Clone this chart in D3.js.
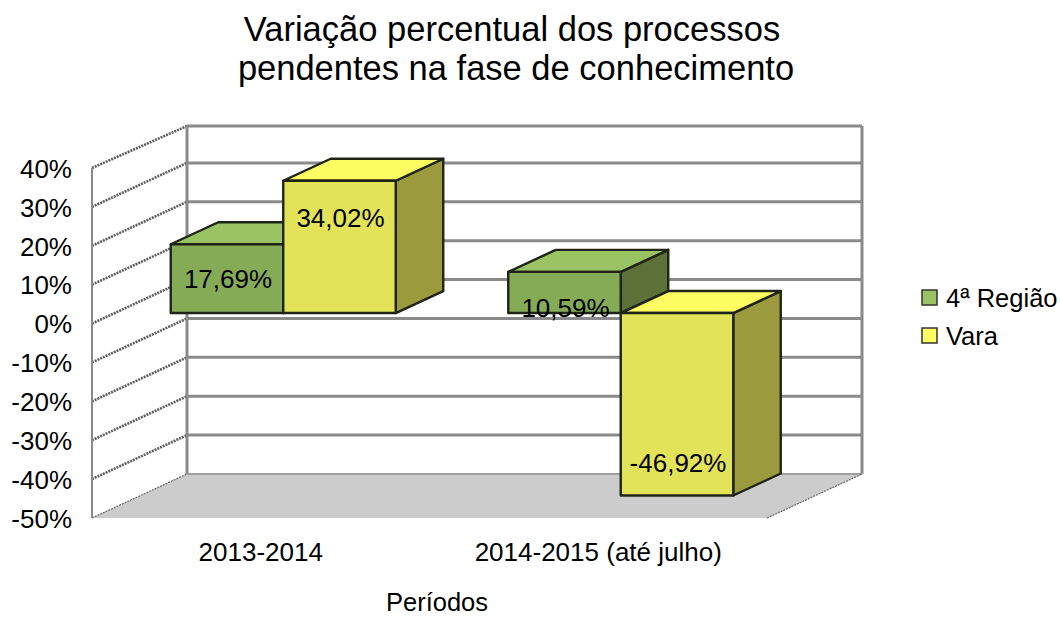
<!DOCTYPE html>
<html><head><meta charset="utf-8">
<script src="https://cdn.jsdelivr.net/npm/d3@7"></script>
<style>html,body{margin:0;padding:0;background:#fff}svg{display:block}text{font-family:"Liberation Sans",Arial,sans-serif;fill:#000}</style>
</head><body><svg id="c" width="1060" height="617"></svg>
<script>
const titleLines = ["Variação percentual dos processos","pendentes na fase de conhecimento"];
const categories = ["2013-2014","2014-2015 (até julho)"];
const seriesNames = ["4ª Região","Vara"];
const regiao = [17.69,10.59];
const vara = [34.02,-46.92];
const regiaoLabels = ["17,69%","10,59%"];
const varaLabels = ["34,02%","-46,92%"];
const yTicks = [40,30,20,10,0,-10,-20,-30,-40,-50];
const xTitle = "Períodos";

const svg = d3.select("#c");
const L=92,R=767,T=168,B=518, DX=95, DY=-44;
const y = d3.scaleLinear().domain([-50,40]).range([B,T]);
const x = d3.scaleBand().domain(categories).range([L,R]);
const xBar = d3.scaleBand().domain(categories).range([L+22.5,R+22.5]);
const xSeries = d3.scaleBand().domain(seriesNames).range([0,xBar.bandwidth()]).paddingOuter(0.5).paddingInner(0);
const barDX=47.5, barDY=-22, baseDY=-10.5;
const pal = {
 "4ª Região":{front:"#85AB57",top:"#9AC363",side:"#5B7137"},
 "Vara":{front:"#E3E35A",top:"#FEFE62",side:"#9B9B3D"}
};
const poly=(g,pts,fill,stroke,sw)=>g.append("polygon").attr("points",pts.map(p=>p.join(",")).join(" ")).attr("fill",fill).attr("stroke",stroke||"none").attr("stroke-width",sw||0).attr("stroke-linejoin","round");

// title
svg.append("g").selectAll("text").data(titleLines).join("text")
  .attr("x",(d,i)=>i?516:512).attr("y",(d,i)=>41+i*38.5).attr("text-anchor","middle").attr("font-size",34.5).text(d=>d);

// floor
const wall=svg.append("g");
poly(wall,[[L,B],[L+DX,B+DY],[R+DX,B+DY],[R,B]],"#CCCCCC");
// back wall gridlines (the top edge of the wall sits slightly lower in the reference)
const ticks=yTicks.filter(v=>v>-50);
const backY=d=>y(d)+DY+(d===40?2:0);
wall.selectAll("line.back").data(ticks).join("line").attr("class","back")
  .attr("x1",L+DX).attr("x2",R+DX).attr("y1",backY).attr("y2",backY)
  .attr("stroke","#8a8a8a").attr("stroke-width",3);
wall.append("line").attr("x1",L+DX).attr("x2",R+DX).attr("y1",B+DY).attr("y2",B+DY).attr("stroke","#a0a0a0").attr("stroke-width",2);
// side wall gridlines, hatched
wall.selectAll("line.side").data(ticks).join("line").attr("class","side")
  .attr("x1",L).attr("x2",L+DX).attr("y1",d=>y(d)).attr("y2",backY)
  .attr("stroke","#5c5c5c").attr("stroke-width",2.6).attr("stroke-dasharray","2 1");
// floor edges
wall.append("line").attr("x1",L).attr("x2",L+DX).attr("y1",B).attr("y2",B+DY).attr("stroke","#666").attr("stroke-width",1.2).attr("stroke-dasharray","2 1");
wall.append("line").attr("x1",R).attr("x2",R+DX).attr("y1",B).attr("y2",B+DY).attr("stroke","#666").attr("stroke-width",1.2).attr("stroke-dasharray","2 1");
// wall verticals
[[L,T,B,2],[L+DX,backY(40),B+DY,3],[R+DX,backY(40),B+DY,3]].forEach(v=>
  wall.append("line").attr("x1",v[0]).attr("x2",v[0]).attr("y1",v[1]).attr("y2",v[2]).attr("stroke","#8a8a8a").attr("stroke-width",v[3]));

// bars
const barsG=svg.append("g");
const seriesVals=[regiao,vara];
const edge="#1f2417";
categories.forEach((c,ci)=>{
  seriesNames.forEach((s,si)=>{
    const v=seriesVals[si][ci], col=pal[s];
    const x0=xBar(c)+xSeries(s), x1=x0+xSeries.bandwidth();
    const y0=y(0)+baseDY, yv=y(v)+baseDY;
    const top=Math.min(y0,yv), bot=Math.max(y0,yv);
    const g=barsG.append("g");
    poly(g,[[x1,top],[x1+barDX,top+barDY],[x1+barDX,bot+barDY],[x1,bot]],col.side,edge,2.4);
    poly(g,[[x0,top],[x0+barDX,top+barDY],[x1+barDX,top+barDY],[x1,top]],col.top,edge,2.4);
    poly(g,[[x0,top],[x1,top],[x1,bot],[x0,bot]],col.front,edge,2.4);
  });
});
// value labels: the reference places them by hand relative to the bar centre
const labelOffsets=[[0,15],[-29,58]];
const labelsG=svg.append("g");
categories.forEach((c,ci)=>{
  seriesNames.forEach((s,si)=>{
    const v=seriesVals[si][ci];
    const cx=xBar(c)+xSeries(s)+xSeries.bandwidth()/2+1;
    const my=(y(0)+y(v))/2+baseDY;
    labelsG.append("text").attr("x",cx).attr("y",my+labelOffsets[si][ci]+9.5).attr("text-anchor","middle").attr("font-size",26)
      .text((si===0?regiaoLabels:varaLabels)[ci]);
  });
});

// axes
const ay=svg.append("g").attr("transform",`translate(${L-18},1)`).call(d3.axisLeft(y).tickValues(yTicks).tickSize(0).tickPadding(2).tickFormat(d=>d+"%"));
ay.select(".domain").remove();
ay.selectAll("text").attr("font-size",26).style("font-family",'"Liberation Sans"').attr("fill","#000");
const ax=svg.append("g").attr("transform",`translate(0,${B})`).call(d3.axisBottom(x).tickSize(0).tickPadding(25));
ax.select(".domain").remove();
ax.selectAll("text").attr("font-size",26).style("font-family",'"Liberation Sans"').attr("fill","#000");
svg.append("text").attr("x",437).attr("y",611).attr("text-anchor","middle").attr("font-size",25.5).text(xTitle);

// legend
const lg=svg.append("g").selectAll("g").data(seriesNames).join("g").attr("transform",(d,i)=>`translate(922,${290+i*38})`);
lg.append("rect").attr("width",15).attr("height",15).attr("fill",d=>pal[d].top).attr("stroke","#333").attr("stroke-width",1.5);
lg.append("text").attr("x",24).attr("y",17).attr("font-size",25.5).text(d=>d);
</script></body></html>
